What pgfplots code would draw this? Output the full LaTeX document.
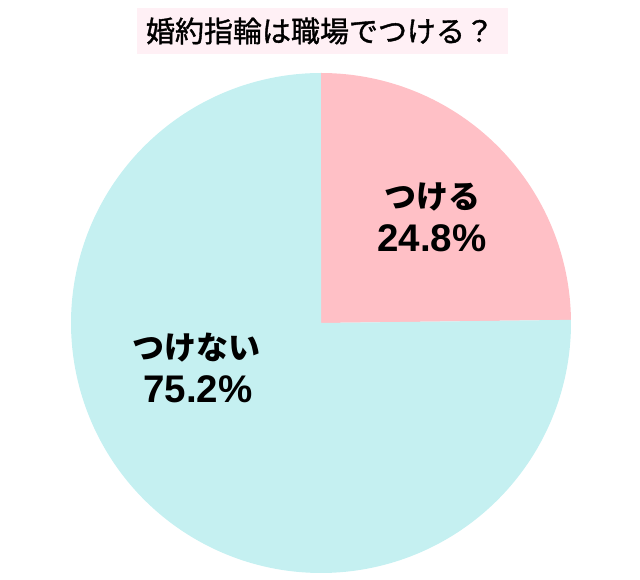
\documentclass[border=0pt]{standalone}
\usepackage{pgfplots}
\pgfplotsset{compat=1.18}
\usepackage{fontspec}
\setmainfont{Liberation Sans}
\newfontfamily\jp{Noto Sans CJK JP}
\newfontfamily\jpt[FakeBold=1.3]{Noto Sans CJK JP}
\definecolor{pinkc}{HTML}{FFC0C6}
\definecolor{cyanc}{HTML}{C5F0F1}
\definecolor{titlebg}{HTML}{FFF0F5}
\def\vA{24.8}
\def\vB{75.2}
\pgfmathsetmacro\angA{90-3.6*\vA}
\pgfmathsetmacro\angB{\angA-3.6*\vB}
\begin{document}
\begin{tikzpicture}[x=1pt,y=1pt]
\path (0,0) rectangle (640,580);
\begin{axis}[at={(71pt,7pt)}, anchor=south west, scale only axis,
  width=500pt, height=500pt, xmin=-1, xmax=1, ymin=-1, ymax=1,
  hide axis, clip=false]
\addplot[fill=pinkc, draw=none, domain=90:\angA, samples=120] ({cos(x)},{sin(x)}) -- (axis cs:0,0) -- cycle;
\addplot[fill=cyanc, draw=none, domain=\angA:\angB, samples=300] ({cos(x)},{sin(x)}) -- (axis cs:0,0) -- cycle;
\end{axis}
\fill[titlebg] (137,526) rectangle (508,572);
\node[anchor=base, font=\jpt\fontsize{29}{29}\selectfont, inner sep=0pt] at (320,538) {婚約指輪は職場でつける？};
\node[anchor=base, font=\jp\bfseries\fontsize{32}{32}\selectfont, inner sep=0pt] at (432,371) {つける};
\node[anchor=base, font=\bfseries\fontsize{38.5}{38.5}\selectfont, inner sep=0pt] at (432,328) {24.8\%};
\node[anchor=base, font=\jp\bfseries\fontsize{32}{32}\selectfont, inner sep=0pt] at (196,220) {つけない};
\node[anchor=base, font=\bfseries\fontsize{38.5}{38.5}\selectfont, inner sep=0pt] at (198,177) {75.2\%};
\end{tikzpicture}
\end{document}
